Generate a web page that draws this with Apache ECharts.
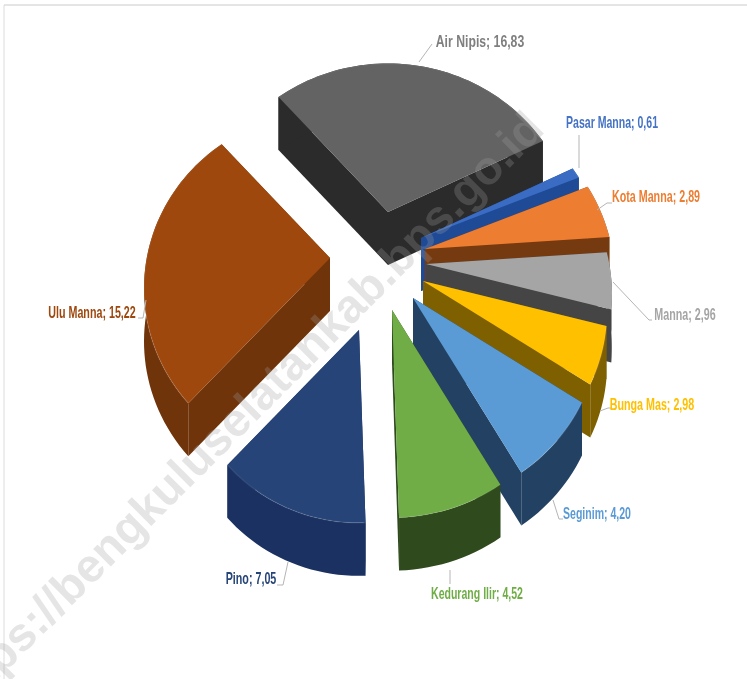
<!DOCTYPE html>
<html><head><meta charset="utf-8">
<style>html,body{margin:0;padding:0;background:#fff}#c{width:747px;height:679px}</style>
<script src="https://cdn.jsdelivr.net/npm/echarts@6/dist/echarts.min.js"></script>
</head><body><div id="c"></div>
<script>
// ---- data ----
const categories = ['Pasar Manna','Kota Manna','Manna','Bunga Mas','Seginim','Kedurang Ilir','Pino','Ulu Manna','Air Nipis'];
const values = [0.61,2.89,2.96,2.98,4.20,4.52,7.05,15.22,16.83];
// ---- styling / layout ----
const sliceOffset = [[41,-26],[45,-15],[46,0],[43,17],[33,34],[12,46],[-21,66],[-50,-6],[8,-52]];
const sliceScale = [0.97,1,0.98,0.97,0.98,0.98,0.91,0.98,0.99];
const drawOrder = [8,0,1,2,3,4,7,6,5];
const topColors = ['#3a6cc4','#ed7d31','#a5a5a5','#ffc000','#5b9bd5','#70ad47','#264478','#9e480e','#636363'];
const wallColors = ['#1f4a96','#763a10','#454545','#7f6000','#234263','#2f4a1d','#1a3161','#70340a','#2b2b2b'];
const labelColors = ['#4472c4','#ed7d31','#a5a5a5','#ffc000','#5b9bd5','#70ad47','#264478','#9e480e','#7f7f7f'];
const labelCenters = [[612,123],[656,197],[685,315],[652,405],[597,514],[477,594],[251,579],[92,313],[480,42]];
const labelScale = [0.62,0.63,0.63,0.63,0.62,0.62,0.63,0.63,0.72];
const leaders = [
 [[579,135],[579,168]],
 [[597,210],[607,203],[612,203]],
 [[613,282],[649,320],[652,320]],
 [[600,411],[608,408],[612,408]],
 [[553,500],[559,519],[563,519]],
 [[450,570],[450,584]],
 [[288,562],[283,585],[277,585]],
 [[146,300],[143,318],[138,318]],
 [[419,62],[432,44]]
];
const centre = [380,264], startDeg = 64, depth = 53;
const rx = 187, ry = 175.7, persp = 0.171;

const total = values.reduce((a,b)=>a+b,0);
const angles = []; let acc = startDeg;
values.forEach(v=>{const s=acc; acc+=v/total*360; angles.push([s,acc]);});
const rad = d=>d*Math.PI/180;

function sliceGeom(i){
  const [a0,a1]=angles[i];
  const ax=centre[0]+sliceOffset[i][0], ay=centre[1]+sliceOffset[i][1], s=sliceScale[i];
  const pts=[], n=Math.max(4,Math.ceil((a1-a0)/2));
  for(let k=0;k<=n;k++){
    const t=rad(a0+(a1-a0)*k/n), x=Math.sin(t), y=Math.cos(t), w=1+persp*y;
    pts.push([ax+s*rx*x/w, ay-s*ry*y/w]);
  }
  return {apex:[ax,ay],arc:pts};
}
const down=p=>[p[0],p[1]+depth];

function renderSlice(params,api){
  const i=api.value(0), g=sliceGeom(i), arc=g.arc, apex=g.apex;
  const first=arc[0], last=arc[arc.length-1];
  const wall=wallColors[i], top=topColors[i];
  const shadow={fill:'rgba(0,0,0,0.01)',shadowBlur:12,shadowColor:'rgba(0,0,0,0.28)',shadowOffsetY:3};
  const kids=[
    {type:'polygon',shape:{points:arc.map(down).concat([down(apex)])},style:shadow},
    {type:'polygon',shape:{points:[apex,first,down(first),down(apex)]},style:{fill:wall}},
    {type:'polygon',shape:{points:[apex,last,down(last),down(apex)]},style:{fill:wall}},
    {type:'polygon',shape:{points:arc.concat(arc.map(down).reverse())},style:{fill:wall}},
    {type:'polygon',shape:{points:[apex].concat(arc)},style:{fill:top}},
    {type:'polyline',shape:{points:arc},style:{fill:null,stroke:'rgba(255,255,255,0.08)',lineWidth:1.5}}
  ];
  return {type:'group',children:kids};
}
function renderLabel(params,api){
  const i=api.value(0), c=labelCenters[i];
  return {type:'group',children:[
    {type:'polyline',shape:{points:leaders[i]},style:{fill:null,stroke:'#b5b5b5',lineWidth:1}},
    {type:'text',x:c[0],y:c[1],scaleX:labelScale[i],style:{text:categories[i]+'; '+values[i].toFixed(2).replace('.',','),
      fill:labelColors[i],font:'bold 17px "Liberation Sans",sans-serif',align:'center',verticalAlign:'middle'}}
  ]};
}
const chart=echarts.init(document.getElementById('c'),null,{renderer:'canvas'});
chart.setOption({
  animation:false,
  backgroundColor:'#fff',
  xAxis:{show:false},yAxis:{show:false},
  grid:{show:false},
  series:[
    {type:'custom',coordinateSystem:'none',silent:true,z:2,renderItem:renderSlice,data:drawOrder.map(i=>[i,values[i]])},
    {type:'custom',coordinateSystem:'none',silent:true,z:3,renderItem:renderLabel,data:values.map((v,i)=>[i,v])}
  ],
  graphic:[
    {type:'line',z:1,shape:{x1:4,y1:5,x2:747,y2:5},style:{stroke:'#dcdcdc',lineWidth:1.5}},
    {type:'line',z:1,shape:{x1:4,y1:5,x2:4,y2:679},style:{stroke:'#dcdcdc',lineWidth:1}},
    {type:'text',z:100,x:537,y:122,rotation:rad(45),
     style:{text:'https://bengkuluselatankab.bps.go.id',font:'bold 47px "Liberation Sans",sans-serif',fill:'rgba(160,160,160,0.27)',align:'right',verticalAlign:'middle'}}
  ]
});
</script></body></html>
